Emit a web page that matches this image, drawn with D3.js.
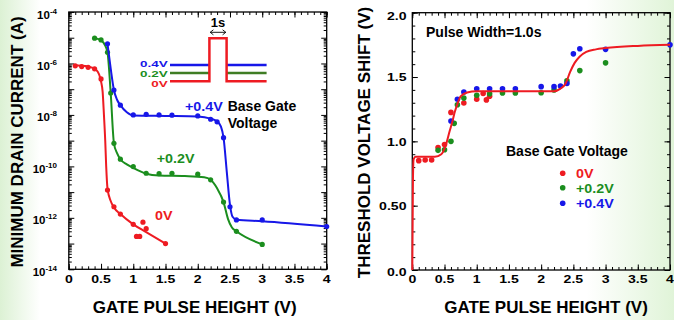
<!DOCTYPE html>
<html><head><meta charset="utf-8">
<script src="https://cdn.jsdelivr.net/npm/d3@7"></script>
<style>html,body{margin:0;padding:0;background:#fff;overflow:hidden}</style>
</head><body><svg id="c" width="674" height="320"></svg>
<script>
// ---------------- DATA ----------------
// Left panel: minimum drain current (A) vs gate pulse height (V)
const xRed0   = [0.1, 0.2, 0.3, 0.4, 0.5, 0.6, 0.7, 0.8, 1.0, 1.05, 1.1, 1.15, 1.2, 1.5];
const iRed0   = [8.1e-7, 7.6e-7, 7.1e-7, 6.2e-7, 2.5e-7, 1.2e-11, 2.7e-12, 1.4e-12, 5.6e-13, 1.9e-13, 1.9e-13, 6.8e-13, 3.8e-13, 1.0e-13];
const xGrn0   = [0.4, 0.5, 0.6, 0.65, 0.7, 0.8, 1.0, 1.2, 1.4, 1.6, 2.0, 2.2, 2.4, 2.6, 3.0];
const iGrn0   = [9.6e-6, 8.2e-6, 2.7e-6, 7.1e-8, 7.9e-10, 1.9e-10, 9.8e-11, 5.4e-11, 5.2e-11, 5.4e-11, 5.0e-11, 3.0e-11, 4.1e-12, 3.0e-13, 9.3e-14];
const xBlu0   = [0.6, 0.7, 0.8, 1.0, 1.2, 1.4, 1.6, 2.0, 2.2, 2.3, 2.4, 2.5, 2.6, 3.0, 4.0];
const iBlu0   = [5.8e-6, 9.3e-8, 2.4e-8, 1.0e-8, 1.05e-8, 1.0e-8, 9.8e-9, 9.1e-9, 6.8e-9, 5.4e-9, 1.3e-9, 2.7e-12, 8.3e-13, 8.3e-13, 4.6e-13];
// fitted curves (left)
const xRedFit = [0.07, 0.3, 0.43, 0.5, 0.525, 0.545, 0.565, 0.58, 0.6, 0.65, 0.7, 0.8, 1.0, 1.2, 1.5];
const iRedFit = [8.5e-7, 7.6e-7, 5.5e-7, 2.0e-7, 7.9e-8, 1e-8, 1e-9, 1e-10, 1.4e-11, 4.5e-12, 2.5e-12, 1.4e-12, 5.6e-13, 2.8e-13, 1.0e-13];
const xGrnFit = [0.38, 0.5, 0.56, 0.6, 0.65, 0.7, 0.75, 0.8, 0.9, 1.0, 1.2, 1.4, 1.8, 2.1, 2.2, 2.3, 2.4, 2.47, 2.53, 2.6, 3.0];
const iGrnFit = [1.0e-5, 7.9e-6, 5.2e-6, 2.7e-6, 7.1e-8, 7.9e-10, 3.2e-10, 1.9e-10, 1.2e-10, 8.7e-11, 5.2e-11, 4.4e-11, 4.2e-11, 3.8e-11, 3.0e-11, 1.4e-11, 4.1e-12, 8.9e-13, 4.2e-13, 3.0e-13, 9.3e-14];
const xBluFit = [0.6, 0.65, 0.7, 0.75, 0.8, 0.9, 1.0, 1.5, 2.0, 2.2, 2.3, 2.36, 2.4, 2.45, 2.5, 2.54, 2.6, 3.0, 4.0];
const iBluFit = [5.8e-6, 6.3e-7, 9.3e-8, 3.8e-8, 2.4e-8, 1.26e-8, 9.5e-9, 9.1e-9, 8.7e-9, 7.2e-9, 5.6e-9, 3.5e-9, 1.3e-9, 6.3e-11, 3.2e-12, 1.1e-12, 8.5e-13, 7.4e-13, 4.6e-13];

// Right panel: threshold voltage shift (V) vs gate pulse height (V)
const xRed1 = [0.1, 0.2, 0.3, 0.4, 0.5, 0.6, 0.8, 1.0, 1.1, 1.15, 1.2];
const vRed1 = [0.85, 0.855, 0.855, 0.952, 0.975, 1.225, 1.298, 1.328, 1.372, 1.322, 1.35];
const xGrn1 = [0.4, 0.5, 0.6, 0.65, 0.7, 0.8, 1.0, 1.2, 1.4, 1.6, 2.0, 2.2, 2.4, 2.6, 3.0];
const vGrn1 = [0.93, 0.935, 1.0, 1.14, 1.285, 1.336, 1.358, 1.37, 1.376, 1.376, 1.378, 1.40, 1.47, 1.55, 1.61];
const xBlu1 = [0.6, 0.7, 0.8, 1.0, 1.2, 1.4, 1.6, 2.0, 2.2, 2.3, 2.4, 2.5, 2.6, 3.0, 4.0];
const vBlu1 = [1.158, 1.327, 1.384, 1.409, 1.409, 1.409, 1.409, 1.425, 1.425, 1.43, 1.45, 1.68, 1.72, 1.715, 1.75];
const xFit1 = [0, 0.01, 0.02, 0.05, 0.2, 0.35, 0.45, 0.52, 0.58, 0.62, 0.66, 0.7, 0.75, 0.85, 1.0, 2.2, 2.3, 2.38, 2.45, 2.52, 2.6, 2.7, 2.85, 3.0, 3.5, 4.0];
const vFit1 = [0, 0.7, 0.86, 0.88, 0.88, 0.88, 0.9, 0.97, 1.08, 1.15, 1.23, 1.29, 1.35, 1.38, 1.39, 1.39, 1.41, 1.45, 1.54, 1.61, 1.66, 1.695, 1.715, 1.725, 1.742, 1.75];

// ticks / labels
const xMajor = [0, 0.5, 1, 1.5, 2, 2.5, 3, 3.5, 4];
const xTickLabels = ["0", "0.5", "1", "1.5", "2", "2.5", "3", "3.5", "4"];
const logLabelExps = [-4, -6, -8, -10, -12, -14];
const yRMajor = [0, 0.5, 1, 1.5, 2];
const yRTickLabels = ["0.0", "0.50", "1.0", "1.5", "2.0"];
const legendLabels = ["0V", "+0.2V", "+0.4V"];
const pulseLabels = ["0.4V", "0.2V", "0V"];

// ---------------- DRAW ----------------
const W = 674, H = 320;
const svg = d3.select("#c");
const FONT = "'Liberation Sans', Arial, Helvetica, sans-serif";
const C = {red: "#ee1b22", green: "#1b8e1e", blue: "#1717e8", olive: "#3f7d24"};

const defs = svg.append("defs");
const lg = defs.append("linearGradient").attr("id", "bg").attr("x1", 0).attr("x2", 1).attr("y1", 0).attr("y2", 0);
[[0, "#dcf1d4"], [0.06, "#ffffff"], [0.87, "#ffffff"], [1, "#e0f4d8"]]
  .forEach(([o, c]) => lg.append("stop").attr("offset", o).attr("stop-color", c));
svg.append("rect").attr("width", W).attr("height", H).attr("fill", "url(#bg)");

function txt(g, s, x, y, o = {}) {
  return g.append("text")
    .attr("transform", `translate(${x},${y}) scale(${o.sx || 1},1)` + (o.rot ? ` rotate(${o.rot})` : ""))
    .attr("font-family", FONT).attr("font-weight", "bold").attr("font-size", o.size || 14)
    .attr("fill", o.color || "#000").attr("text-anchor", o.anchor || "start").text(s);
}

function tickSet(axisFn, scale, values, size, tr) {
  const g = svg.append("g").attr("transform", tr)
    .call(axisFn(scale).tickValues(values).tickSize(size).tickFormat(""));
  g.select(".domain").remove();
  g.selectAll("line").attr("stroke", "#000").attr("stroke-width", 1);
  g.selectAll("text").remove();
  return g;
}

const xMinor = d3.range(41).map(i => i / 10);

// ----- LEFT PANEL -----
const xL = d3.scaleLinear().domain([0, 4]).range([68.8, 326.7]);
const yL = d3.scaleLog().domain([1e-14, 1e-4]).range([269.3, 12]);
const [lx0, lx1] = xL.range(), [ly0, ly1] = yL.range();

const logMinor = [];
for (let e = -14; e < -4; e++) for (let m = 2; m <= 9; m++) logMinor.push(m * Math.pow(10, e));
const logMajor = d3.range(-14, -3).map(e => Math.pow(10, e));

tickSet(d3.axisBottom, xL, xMinor, -3, `translate(0,${ly0})`);
tickSet(d3.axisBottom, xL, xMajor, -5.5, `translate(0,${ly0})`);
tickSet(d3.axisTop, xL, xMinor, -3, `translate(0,${ly1})`);
tickSet(d3.axisTop, xL, xMajor, -5.5, `translate(0,${ly1})`);
tickSet(d3.axisLeft, yL, logMinor, -3, `translate(${lx0},0)`);
tickSet(d3.axisLeft, yL, logMajor, -5.5, `translate(${lx0},0)`);
tickSet(d3.axisRight, yL, logMinor, -3, `translate(${lx1},0)`);
tickSet(d3.axisRight, yL, logMajor, -5.5, `translate(${lx1},0)`);

svg.append("rect").attr("x", lx0).attr("y", ly1).attr("width", lx1 - lx0).attr("height", ly0 - ly1)
  .attr("fill", "none").attr("stroke", "#000").attr("stroke-width", 1.3);

// x tick labels
xMajor.forEach((v, i) => txt(svg, xTickLabels[i], xL(v), ly0 + 13.7, {size: 11, sx: 1.28, anchor: "middle"}));
// log y labels
logLabelExps.forEach(e => {
  const t = svg.append("text").attr("x", 57).attr("y", yL(Math.pow(10, e)) + 6.5)
    .attr("font-family", FONT).attr("font-weight", "bold").attr("font-size", 11.5)
    .attr("text-anchor", "end").attr("fill", "#000");
  t.append("tspan").text("10");
  t.append("tspan").attr("dy", -5).attr("font-size", 8).text(String(e));
});

const lineL = d3.line().x(d => xL(d[0])).y(d => yL(d[1])).curve(d3.curveMonotoneX);
const seriesL = [
  {x: xRedFit, y: iRedFit, px: xRed0, py: iRed0, c: C.red},
  {x: xGrnFit, y: iGrnFit, px: xGrn0, py: iGrn0, c: C.green},
  {x: xBluFit, y: iBluFit, px: xBlu0, py: iBlu0, c: C.blue}
];
seriesL.forEach(s => {
  svg.append("path").attr("d", lineL(s.x.map((v, i) => [v, s.y[i]])))
    .attr("fill", "none").attr("stroke", s.c).attr("stroke-width", 2);
  svg.append("g").selectAll("circle").data(s.px.map((v, i) => [v, s.py[i]])).join("circle")
    .attr("cx", d => xL(d[0])).attr("cy", d => yL(d[1])).attr("r", 2.6).attr("fill", s.c);
});

// pulse inset (schematic)
const ins = svg.append("g");
const pl = [{y: 65, c: C.blue}, {y: 73, c: C.olive}];
pl.forEach(p => {
  ins.append("line").attr("x1", 170).attr("x2", 209.4).attr("y1", p.y).attr("y2", p.y).attr("stroke", p.c).attr("stroke-width", 2.5);
  ins.append("line").attr("x1", 226.6).attr("x2", 266.6).attr("y1", p.y).attr("y2", p.y).attr("stroke", p.c).attr("stroke-width", 2.5);
});
ins.append("path").attr("d", "M170,81.3 H209.4 V38.3 H226.6 V81.3 H266.6")
  .attr("fill", "none").attr("stroke", C.red).attr("stroke-width", 2.5);
ins.append("path").attr("d", "M210.2,32.3 H225.8 M213.4,29.8 L210.2,32.3 L213.4,34.8 M222.6,29.8 L225.8,32.3 L222.6,34.8")
  .attr("fill", "none").attr("stroke", "#000").attr("stroke-width", 0.9);
txt(ins, "1s", 218, 27.3, {size: 13, anchor: "middle"});
[C.blue, C.green, C.red].forEach((c, i) =>
  txt(ins, pulseLabels[i], 167.7, [66.6, 76.8, 87.0][i], {size: 9.3, sx: 1.45, anchor: "end", color: c}));

txt(svg, "+0.4V", 185, 111, {size: 13, sx: 1.1, color: C.blue});
txt(svg, "Base Gate", 227.7, 111, {size: 14});
txt(svg, "Voltage", 227.7, 128.3, {size: 14});
txt(svg, "+0.2V", 156.7, 162.6, {size: 13, sx: 1.1, color: C.green});
txt(svg, "0V", 155, 220.2, {size: 13, sx: 1.1, color: C.red});

txt(svg, "MINIMUM DRAIN CURRENT (A)", 23, 142, {size: 17, rot: -90, anchor: "middle"});
txt(svg, "GATE PULSE HEIGHT (V)", 194.7, 313, {size: 17, anchor: "middle"});

// ----- RIGHT PANEL -----
const xR = d3.scaleLinear().domain([0, 4]).range([412.3, 670]);
const yR = d3.scaleLinear().domain([0, 2]).range([270, 12.7]);
const [rx0, rx1] = xR.range(), [ry0, ry1] = yR.range();
const yRMinor = d3.range(21).map(i => i / 10);

tickSet(d3.axisBottom, xR, xMinor, -3, `translate(0,${ry0})`);
tickSet(d3.axisBottom, xR, xMajor, -5.5, `translate(0,${ry0})`);
tickSet(d3.axisTop, xR, xMinor, -3, `translate(0,${ry1})`);
tickSet(d3.axisTop, xR, xMajor, -5.5, `translate(0,${ry1})`);
tickSet(d3.axisLeft, yR, yRMinor, -3, `translate(${rx0},0)`);
tickSet(d3.axisLeft, yR, yRMajor, -5.5, `translate(${rx0},0)`);
tickSet(d3.axisRight, yR, yRMinor, -3, `translate(${rx1},0)`);
tickSet(d3.axisRight, yR, yRMajor, -5.5, `translate(${rx1},0)`);

svg.append("rect").attr("x", rx0).attr("y", ry1).attr("width", rx1 - rx0).attr("height", ry0 - ry1)
  .attr("fill", "none").attr("stroke", "#000").attr("stroke-width", 1.3);

xMajor.forEach((v, i) => txt(svg, xTickLabels[i], xR(v), ry0 + 13, {size: 11, sx: 1.28, anchor: "middle"}));
yRMajor.forEach((v, i) => {
  const off = v === 2 ? 7.5 : (v === 0 ? 6 : 4.3);
  txt(svg, yRTickLabels[i], rx0 - 5.8, yR(v) + off, {size: 11, sx: 1.28, anchor: "end"});
});

const lineR = d3.line().x(d => xR(d[0])).y(d => yR(d[1])).curve(d3.curveMonotoneX);
const seriesR = [
  {px: xRed1, py: vRed1, c: C.red},
  {px: xGrn1, py: vGrn1, c: C.green},
  {px: xBlu1, py: vBlu1, c: C.blue}
];
seriesR.forEach(s => {
  svg.append("g").selectAll("circle").data(s.px.map((v, i) => [v, s.py[i]])).join("circle")
    .attr("cx", d => xR(d[0])).attr("cy", d => yR(d[1])).attr("r", 2.8).attr("fill", s.c);
});
svg.append("path").attr("d", lineR(xFit1.map((v, i) => [v, vFit1[i]])))
  .attr("fill", "none").attr("stroke", C.red).attr("stroke-width", 2);

txt(svg, "Pulse Width=1.0s", 426, 36.5, {size: 14});
txt(svg, "Base Gate Voltage", 506, 155.5, {size: 14});
[C.red, C.green, C.blue].forEach((c, i) => {
  const cy = [173.3, 187.7, 203.3][i];
  svg.append("circle").attr("cx", 562.7).attr("cy", cy).attr("r", 2.8).attr("fill", c);
  txt(svg, legendLabels[i], 576, cy + 4.8, {size: 13, sx: 1.1, color: c});
});

txt(svg, "THRESHOLD VOLTAGE SHIFT (V)", 369.5, 142.5, {size: 17, rot: -90, anchor: "middle"});
txt(svg, "GATE PULSE HEIGHT (V)", 546, 313, {size: 17, anchor: "middle"});
</script>
</body></html>
